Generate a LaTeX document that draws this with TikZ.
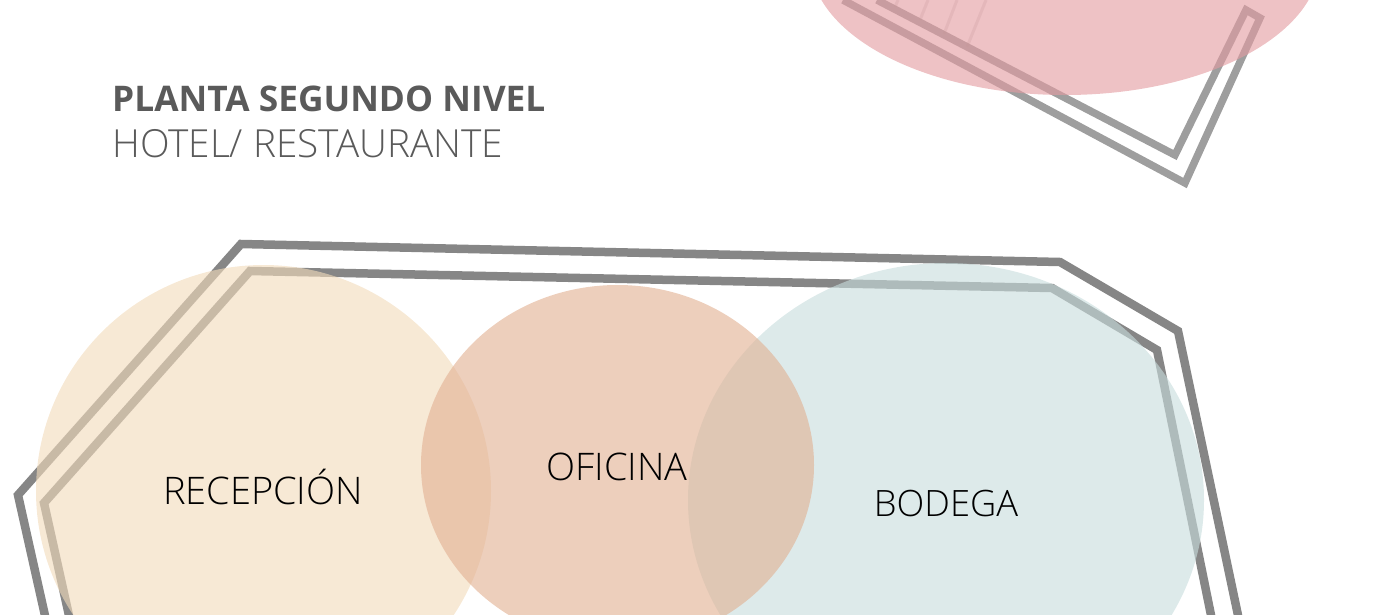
\documentclass[tikz,border=0pt]{standalone}
\usepackage{fontspec}
\setmainfont{Open Sans}
\newfontfamily\lightfont{Open Sans Light}
\newfontfamily\boldfont{Open Sans Bold}
\usepackage{tikz}

\definecolor{wallgray}{HTML}{868686}
\definecolor{titlegray}{HTML}{5A5A5A}
\definecolor{pinkzone}{HTML}{E39CA1}
\definecolor{beigezone}{HTML}{F2DBBB}
\definecolor{tealzone}{HTML}{C8DDDD}
\definecolor{peachzone}{HTML}{E2B193}

\tikzset{
  wall/.style={draw=wallgray, line width=8.5pt, line join=miter},
  tick/.style={draw=wallgray, line width=3pt, opacity=0.22},
  zone/.style={fill opacity=0.62},
  zonelabel/.style={font=\lightfont\fontsize{38}{38}\selectfont, text=black, inner sep=0pt, anchor=base},
  heading/.style={inner sep=0pt, anchor=base west, text=titlegray},
}

\begin{document}
\begin{tikzpicture}[x=1pt,y=-1pt]
    \useasboundingbox (0,0) rectangle (1382,614);
    \clip (0,0) rectangle (1382,614);

    % upper wing
    \draw[wall, line width=7.5pt, opacity=0.8] (843,0) -- (1185,183) -- (1260,18) -- (1246,10) -- (1175,155) -- (877,0);
    \foreach \a/\b/\c/\d in {895/7/898/0,920/20/928/0,944/34/957/0,967/47/986/0} {
      \draw[tick] (\a,\b) -- (\c,\d);
    }

    % lower floor
    \draw[wall] (46,620) -- (18,495) -- (241,244) -- (1060,262) -- (1178,331) -- (1239,620);
    \draw[wall] (70,620) -- (44,503) -- (250,271) -- (1052,288) -- (1157,350) -- (1212,620);

    % zones
    \fill[zone, pinkzone] (1065,-40) ellipse [x radius=255, y radius=135];
    \fill[zone, beigezone] (263.5,491) ellipse [x radius=227.5, y radius=226];
    \fill[zone, tealzone] (946,500) ellipse [x radius=258, y radius=237];
    \fill[zone, peachzone] (617.5,465) ellipse [x radius=196.5, y radius=180];

    % titles
    \node[heading, font=\boldfont\fontsize{35.3}{35.3}\selectfont] (title) at (112,111) {PLANTA SEGUNDO NIVEL};
    \node[heading, font=\lightfont\fontsize{38.7}{38.7}\selectfont] (subtitle) at (112,157) {HOTEL/ RESTAURANTE};

    % labels
    \node[zonelabel] (recepcion) at (263,504) {RECEPCIÓN};
    \node[zonelabel] (oficina) at (617,480) {OFICINA};
    \node[zonelabel, font=\lightfont\fontsize{36.3}{36.3}\selectfont] (bodega) at (946,516) {BODEGA};
\end{tikzpicture}
\end{document}
